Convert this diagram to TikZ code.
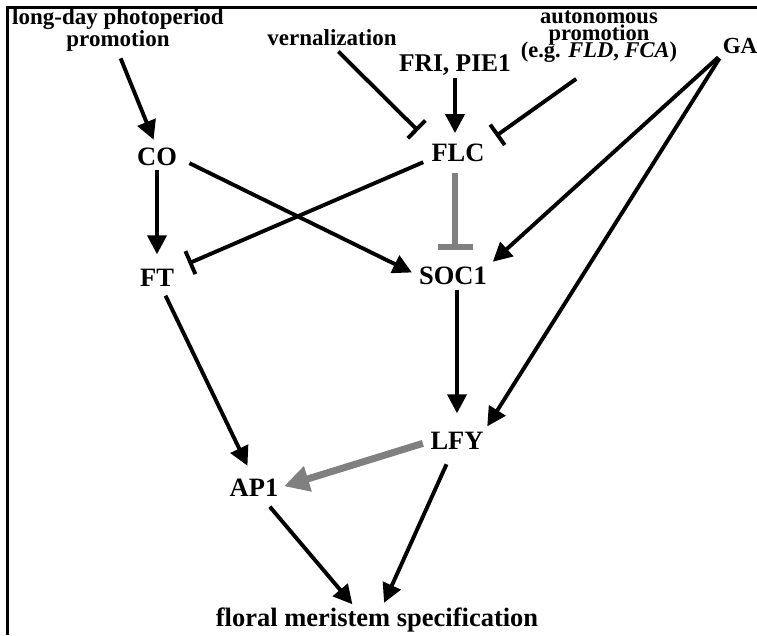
\documentclass[tikz,border=0pt]{standalone}
\usepackage{fontspec}
\setmainfont{Liberation Serif}
\usetikzlibrary{arrows.meta,calc}
\definecolor{inhgray}{RGB}{128,128,128}
\begin{document}
\begin{tikzpicture}[x=1pt,y=-1pt,
  lbl/.style={font=\fontsize{23}{24}\selectfont\bfseries, inner sep=0pt, outer sep=0pt},
  gene/.style={font=\fontsize{26.5}{28}\selectfont\bfseries, inner sep=0pt, outer sep=0pt},
  act/.style={line width=3.9pt, -{Triangle[length=19pt,width=19pt]}},
  inh/.style={line width=3.9pt, -{Bar[width=25pt]}},
  gact/.style={draw=inhgray, line width=7pt, -{Triangle[length=25pt,width=25pt]}},
  ginh/.style={draw=inhgray, line width=6.5pt, -{Bar[width=35pt]}},
]
\useasboundingbox (0,0) rectangle (757,635);
% frame
\draw[line width=3pt] (7.5,635) -- (7.5,7.3) -- (757,7.3);

% labels
\node[lbl, align=center, anchor=north] (ld) at (118,9) {long-day photoperiod\\[-2pt]promotion};
\node[lbl, anchor=base] (vern) at (332,45) {vernalization};
\node[lbl, anchor=base, font=\fontsize{25.5}{26}\selectfont\bfseries] (fri) at (455,71) {FRI, PIE1};
\node[lbl, align=center, anchor=north, font=\fontsize{22.5}{24}\selectfont\bfseries] (auto) at (599,11) {autonomous\\[-7pt]promotion\hspace*{30pt}\\[-7pt](e.g. \textit{FLD}, \textit{FCA})};
\node[lbl, anchor=base] (ga) at (740,53) {GA};

% genes
\node[gene] (CO) at (157,157) {CO};
\node[gene] (FLC) at (458,153) {FLC};
\node[gene] (FT) at (157,278) {FT};
\node[gene] (SOC1) at (453,276) {SOC1};
\node[gene] (LFY) at (457,441) {LFY};
\node[gene] (AP1) at (254,488) {AP1};
\node[gene, anchor=base] (floral) at (377,626) {floral meristem specification};

% connectors
\draw[act, shorten <=7pt, shorten >=9pt] (ld.south) -- (CO.north);
\draw[act, shorten <=4pt, shorten >=15pt] (CO) -- (FT);
\draw[act, shorten <=14pt, shorten >=8pt] (CO.east) -- (SOC1.west);
\draw[inh, shorten <=9pt, shorten >=16pt] (FLC.192.5) -- (FT.26);
\draw[inh, shorten <=9pt, shorten >=19pt] (vern.south) -- (FLC.north west);
\draw[act, shorten <=3pt, shorten >=11pt] (fri.south) -- (fri.south |- FLC.north);
\draw[inh, shorten <=28pt, shorten >=14pt] (auto.south) -- (FLC.north east);
\draw[ginh, shorten <=11pt, shorten >=17pt] ([xshift=-3pt]FLC.south) -- ([xshift=-3pt]FLC.south |- SOC1.north);
\draw[act, shorten <=6pt, shorten >=8pt] (ga.south west) -- (SOC1.north east);
\draw[act, shorten <=6pt, shorten >=7pt] (ga.south west) -- (LFY.north east);
\draw[act, shorten <=5pt, shorten >=19pt] (LFY.north |- SOC1.south) -- (LFY.north);
\draw[act, shorten <=10pt, shorten >=15pt] (FT) -- (AP1.north);
\draw[gact, shorten <=8pt, shorten >=6pt] (LFY.west) -- (AP1.east);
\draw[act, shorten <=13pt, shorten >=4pt] (AP1) -- ([xshift=-22pt]floral.north);
\draw[act, shorten <=16pt, shorten >=5pt] (LFY) -- ([xshift=5pt]floral.north);
\end{tikzpicture}
\end{document}
